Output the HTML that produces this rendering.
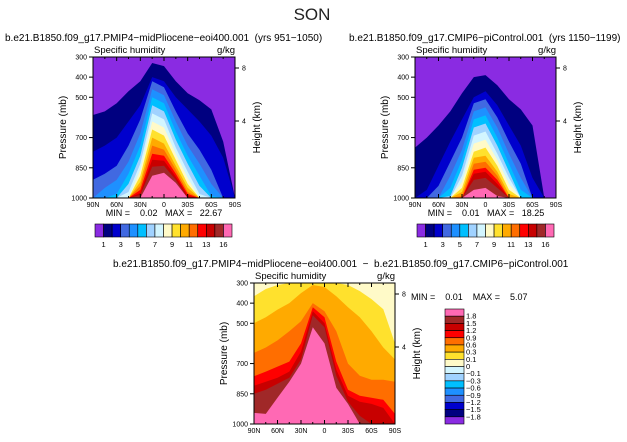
<!DOCTYPE html>
<html><head><meta charset="utf-8"><style>
body{margin:0;background:#fff;}
svg{display:block;font-family:"Liberation Sans",sans-serif;}
text{white-space:pre;}
</style></head><body>
<svg id="fig" width="627" height="442" viewBox="0 0 627 442">
<text x="312" y="20" font-size="17" text-anchor="middle" fill="#222">SON</text>
<g id="g"></g>
</svg>
<script>
// latitudes of data columns
const lats=[90,75,60,45,30,15,0,-15,-30,-45,-60,-75,-90];
const latTicks=[90,60,30,0,-30,-60,-90];
const latTickLabels=['90N','60N','30N','0','30S','60S','90S'];
const presTicks=[300,400,500,700,850,1000];
const absLevelLabels=['1','3','5','7','9','11','13','16'];
const absColors=['#8a2be2','#000080','#0000cd','#4169e1','#1e90ff','#00bfff','#a0d2ff','#d2f5ff','#fffac8','#ffe12d','#ffaa00','#ff6e00','#ff0000','#c80000','#a02828','#ff69b4'];
const diffColors=['#fffac8','#ffe12d','#ffaa00','#ff6e00','#ff0000','#c80000','#a02828','#ff69b4'];
const diffLabels=['1.8','1.5','1.2','0.9','0.6','0.3','0.1','0','\u22120.1','\u22120.3','\u22120.6','\u22120.9','\u22121.2','\u22121.5','\u22121.8'];
const diffBarColors=['#ff69b4','#a02828','#c80000','#ff0000','#ff6e00','#ffaa00','#ffe12d','#fffac8','#d2f5ff','#a0d2ff','#00bfff','#1e90ff','#4169e1','#0000cd','#000080','#8a2be2'];
// left panel: pressure (mb) where field crosses level k, per latitude
const leftL1=[588,570,530,470,420,330,345,420,480,515,560,720,1000];
const leftL2=[770,740,700,620,540,400,420,500,560,620,690,800,1000];
const leftL3=[909,880,840,740,610,420,450,570,680,760,860,1000,1000];
const leftL4=[1000,950,910,820,680,460,490,620,740,830,930,1000,1000];
const leftL5=[1000,1000,980,880,740,500,530,670,790,890,990,1000,1000];
const leftL6=[1000,1000,1000,930,790,540,570,710,830,940,1000,1000,1000];
const leftL7=[1000,1000,1000,970,830,580,610,750,870,980,1000,1000,1000];
const leftL8=[1000,1000,1000,1000,860,620,650,780,900,1000,1000,1000,1000];
const leftL9=[1000,1000,1000,1000,890,660,690,810,930,1000,1000,1000,1000];
const leftL10=[1000,1000,1000,1000,920,700,730,840,950,1000,1000,1000,1000];
const leftL11=[1000,1000,1000,1000,940,740,760,860,970,1000,1000,1000,1000];
const leftL12=[1000,1000,1000,1000,960,780,790,880,980,1000,1000,1000,1000];
const leftL13=[1000,1000,1000,1000,975,810,815,895,990,1000,1000,1000,1000];
const leftL14=[1000,1000,1000,1000,985,845,840,910,1000,1000,1000,1000,1000];
const leftL15=[1000,1000,1000,1000,1000,890,875,925,1000,1000,1000,1000,1000];
// right panel
const rightL1=[750,700,640,570,480,400,390,440,510,560,640,1000,1000];
const rightL2=[1000,960,840,720,610,500,470,540,640,740,900,1000,1000];
const rightL3=[1000,1000,940,820,700,530,510,600,720,830,1000,1000,1000];
const rightL4=[1000,1000,1000,890,760,570,550,650,780,900,1000,1000,1000];
const rightL5=[1000,1000,1000,950,810,610,590,700,830,960,1000,1000,1000];
const rightL6=[1000,1000,1000,990,850,650,630,740,870,1000,1000,1000,1000];
const rightL7=[1000,1000,1000,1000,890,690,670,780,900,1000,1000,1000,1000];
const rightL8=[1000,1000,1000,1000,920,730,710,810,930,1000,1000,1000,1000];
const rightL9=[1000,1000,1000,1000,950,770,750,840,960,1000,1000,1000,1000];
const rightL10=[1000,1000,1000,1000,970,800,790,870,980,1000,1000,1000,1000];
const rightL11=[1000,1000,1000,1000,990,830,820,890,1000,1000,1000,1000,1000];
const rightL12=[1000,1000,1000,1000,1000,860,850,910,1000,1000,1000,1000,1000];
const rightL13=[1000,1000,1000,1000,1000,880,870,930,1000,1000,1000,1000,1000];
const rightL14=[1000,1000,1000,1000,1000,910,900,950,1000,1000,1000,1000,1000];
const rightL15=[1000,1000,1000,1000,1000,960,950,990,1000,1000,1000,1000,1000];
// difference panel levels 0.1,0.3,0.6,0.9,1.2,1.5,1.8
const diffL1=[366,330,310,300,300,300,300,300,310,340,380,430,600];
const diffL2=[499,470,432,400,350,310,320,366,420,470,540,620,680];
const diffL3=[647,620,585,540,490,400,440,540,700,760,780,780,790];
const diffL4=[763,740,715,690,600,420,470,690,830,860,870,880,950];
const diffL5=[810,790,770,740,640,440,500,730,860,890,900,920,1000];
const diffL6=[850,830,800,770,680,460,520,760,890,960,1000,1000,1000];
const diffL7=[945,950,870,790,700,520,600,820,900,1000,1000,1000,1000];

const leftLevels=[leftL1,leftL2,leftL3,leftL4,leftL5,leftL6,leftL7,leftL8,leftL9,leftL10,leftL11,leftL12,leftL13,leftL14,leftL15];
const rightLevels=[rightL1,rightL2,rightL3,rightL4,rightL5,rightL6,rightL7,rightL8,rightL9,rightL10,rightL11,rightL12,rightL13,rightL14,rightL15];
const diffLevels=[diffL1,diffL2,diffL3,diffL4,diffL5,diffL6,diffL7];

const NS='http://www.w3.org/2000/svg';
const G=document.getElementById('g');
function el(t,a,p){const e=document.createElementNS(NS,t);for(const k in a)e.setAttribute(k,a[k]);(p||G).appendChild(e);return e;}
function txt(x,y,s,size,anchor,p){const e=el('text',{x:x,y:y,'font-size':size,'text-anchor':anchor||'start',fill:'#000'},p);e.textContent=s;return e;}

function panel(name,x0,y0,w,h,bg,levels,colors){
  const g=el('g',{});
  
  
  const X=lat=>x0+(90-lat)/180*w;
  const Y=p=>y0+(Math.min(p,1000)-300)/700*h;
  const bgR=el('rect',{x:x0,y:y0,width:w,height:h,fill:bg},g);
  
  
  levels.forEach((arr,k)=>{
    let d='M'+X(90)+','+Y(1000);
    arr.forEach((p,i)=>{d+=' L'+X(lats[i]).toFixed(1)+','+Y(p).toFixed(1);});
    d+=' L'+X(-90)+','+Y(1000)+'Z';
    const pa=el('path',{d:d,fill:colors[Math.min(k+1,colors.length-1)]},g);
    
    
  });
  const fr=el('rect',{x:x0,y:y0,width:w,height:h,fill:'none',stroke:'#000','stroke-width':1},g);
  
  
  latTicks.forEach((l,i)=>{
    el('line',{x1:X(l),x2:X(l),y1:y0+h,y2:y0+h-4,stroke:'#000'},g);
    el('line',{x1:X(l),x2:X(l),y1:y0,y2:y0+4,stroke:'#000'},g);
    const t=txt(X(l),y0+h+9,latTickLabels[i],7,'middle',g);
    
    
  });
  for(let l=75;l>-90;l-=30){el('line',{x1:X(l),x2:X(l),y1:y0+h,y2:y0+h-2,stroke:'#000'},g);el('line',{x1:X(l),x2:X(l),y1:y0,y2:y0+2,stroke:'#000'},g);}
  presTicks.forEach(p=>{
    el('line',{x1:x0-4,x2:x0,y1:Y(p),y2:Y(p),stroke:'#000'},g);
    const t=txt(x0-6,Y(p)+2.5,String(p),7,'end',g);
    
    
  });
  [[8,y0+11],[4,y0+64]].forEach(a=>{
    el('line',{x1:x0+w,x2:x0+w+4,y1:a[1],y2:a[1],stroke:'#000'},g);
    txt(x0+w+7,a[1]+2.5,String(a[0]),7,'start',g);
  });
  const t1=txt(x0+1,y0-4,'Specific humidity',9.5,'start',g);
  
  
  const t2=txt(x0+w,y0-4,'g/kg',9.5,'end',g);
  
  
  const ya=txt(0,0,'Pressure (mb)',10,'middle',g);
  ya.setAttribute('transform','translate('+(x0-27)+','+(y0+h/2)+') rotate(-90)');
  
  
  const ha=txt(0,0,'Height (km)',10,'middle',g);
  ha.setAttribute('transform','translate('+(x0+w+25)+','+(y0+h/2)+') rotate(-90)');
  
  
}

function hbar(name,x0,y0,w,h){
  const g=el('g',{});
  
  
  const bw=w/absColors.length;
  absColors.forEach((c,i)=>{
    const r=el('rect',{x:x0+i*bw,y:y0,width:bw,height:h,fill:c,stroke:'#000','stroke-width':0.6},g);
    
    
  });
  absLevelLabels.forEach((s,i)=>{
    const idx=i<7?i*2:14;
    txt(x0+(idx+1)*bw,y0+h+10,s,7.5,'middle',g);
  });
}

panel('left-panel',93,57,142,141,'#8a2be2',leftLevels,absColors);
panel('right-panel',415,57,141,141,'#8a2be2',rightLevels,absColors);
panel('diff-panel',254,283,141,141,'#fffac8',diffLevels,diffColors);
hbar('left-colorbar',95,224,137,13);
hbar('right-colorbar',417,224,137,13);

(function(){
  const g=el('g',{});
  
  
  const x0=445,y0=309,w=19,h=115,bh=h/diffBarColors.length;
  diffBarColors.forEach((c,i)=>{
    const r=el('rect',{x:x0,y:y0+i*bh,width:w,height:bh,fill:c,stroke:'#000','stroke-width':0.6},g);
    
    
  });
  diffLabels.forEach((s,i)=>{txt(x0+w+2,y0+(i+1)*bh+2.5,s,7.5,'start',g);});
})();

const titles=[
 [5,41,'b.e21.B1850.f09_g17.PMIP4\u2212midPliocene\u2212eoi400.001  (yrs 951\u22121050)','start','left-title'],
 [349,41,'b.e21.B1850.f09_g17.CMIP6\u2212piControl.001  (yrs 1150\u22121199)','start','right-title'],
 [113,267,'b.e21.B1850.f09_g17.PMIP4\u2212midPliocene\u2212eoi400.001  \u2212  b.e21.B1850.f09_g17.CMIP6\u2212piControl.001','start','diff-title'],
 [164,216,'MIN =    0.02   MAX =   22.67','middle','left-minmax'],
 [486,216,'MIN =    0.01   MAX =   18.25','middle','right-minmax'],
 [411,300,'MIN =    0.01    MAX =    5.07','start','diff-minmax']
];
titles.forEach(t=>{
  const e=txt(t[0],t[1],t[2],t[4].indexOf('minmax')>=0?9:10,t[3]);
  
  
});
</script>
</body></html>
